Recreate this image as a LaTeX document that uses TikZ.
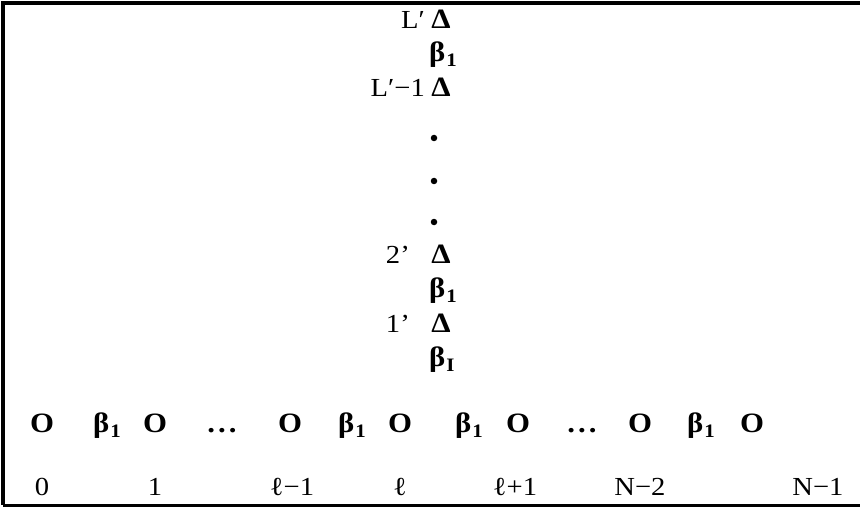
\documentclass[tikz,border=0pt]{standalone}
\usepackage{fontspec}
\setmainfont{Liberation Serif}[FakeStretch=1.1]
\newcommand{\bsub}[1]{β\kern1pt\raisebox{-5pt}{\fontsize{19}{19}\selectfont #1}}
\newcommand{\tdots}{.\kern3pt.\kern3pt.}
\begin{document}
\begin{tikzpicture}[x=1pt,y=-1pt,
  sym/.style={font=\fontsize{28}{28}\selectfont\bfseries, inner sep=0pt, anchor=base},
  bsym/.style={font=\fontsize{28}{28}\selectfont\bfseries, inner sep=0pt, anchor=base west},
  lab/.style={font=\fontsize{26}{26}\selectfont, inner sep=0pt, anchor=base},
  vlab/.style={font=\fontsize{26}{26}\selectfont, inner sep=0pt, anchor=base east},
  frame/.style={line width=4.5pt},
  dotmark/.style={circle, fill=black, inner sep=0pt, minimum size=6.5pt}
]
\useasboundingbox (0,0) rectangle (860,508);
% frame
\coordinate (tl) at (3,3);
\coordinate (tr) at (860,3);
\coordinate (bl) at (3,505);
\coordinate (br) at (860,505);
\draw[frame] (tr) -- (tl) -- (bl);
\draw[line width=3pt] (bl) -- (br);

% vertical column
\node[vlab] (lLp) at (425,29) {L′};
\node[sym] (dLp) at (441,29) {Δ};
\node[bsym] (bv1) at (429,62) {\bsub{1}};
\node[vlab] (lLm) at (425,97) {L′−1};
\node[sym] (dLm) at (441,97) {Δ};
\node[dotmark] (d1) at (434,138) {};
\node[dotmark] (d2) at (434,181) {};
\node[dotmark] (d3) at (434,222) {};
\node[vlab] (l2) at (410,263) {2'};
\node[sym] (d2p) at (441,263) {Δ};
\node[bsym] (bv2) at (429,297) {\bsub{1}};
\node[vlab] (l1) at (410,332) {1'};
\node[sym] (d1p) at (441,332) {Δ};
\node[bsym] (bv3) at (429,366) {\bsub{I}};

% bottom row
\node[sym] (o0) at (42,432) {O};
\node[bsym] (b0) at (93,432) {\bsub{1}};
\node[sym] (o1) at (155,432) {O};
\node[sym] (e1) at (222,432) {\tdots};
\node[sym] (o2) at (290,432) {O};
\node[bsym] (b2) at (338,432) {\bsub{1}};
\node[sym] (o3) at (400,432) {O};
\node[bsym] (b3) at (455,432) {\bsub{1}};
\node[sym] (o4) at (518,432) {O};
\node[sym] (e2) at (582,432) {\tdots};
\node[sym] (o5) at (640,432) {O};
\node[bsym] (b5) at (687,432) {\bsub{1}};
\node[sym] (o6) at (752,432) {O};

% index labels
\node[lab] (n0) at (42,495) {0};
\node[lab] (n1) at (155,495) {1};
\node[lab] (n2) at (292,495) {ℓ−1};
\node[lab] (n3) at (400,495) {ℓ};
\node[lab] (n4) at (515,495) {ℓ+1};
\node[lab] (n5) at (640,495) {N−2};
\node[lab] (n6) at (818,495) {N−1};
\end{tikzpicture}
\end{document}
